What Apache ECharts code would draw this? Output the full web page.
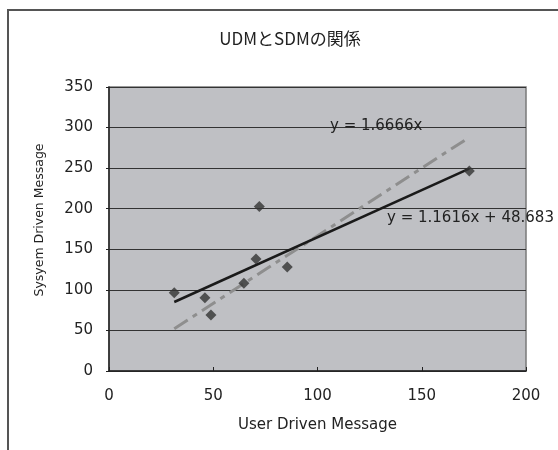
<!DOCTYPE html>
<html>
<head>
<meta charset="utf-8">
<script src="https://cdn.jsdelivr.net/npm/echarts@6/dist/echarts.min.js"></script>
<style>
  html, body { margin: 0; padding: 0; background: #fff; }
  #chart { width: 558px; height: 450px; }
</style>
</head>
<body>
<div id="chart"></div>
<script>
// Message counts per sample
const userDriven   = [31.3, 46.0, 48.9, 64.7, 70.5, 72.1, 85.5, 172.8];
const systemDriven = [96.5, 90.4, 69.0, 108.0, 138.0, 202.6, 128.2, 246.6];

// Trend line coefficients: [slope, intercept]
const linearFit = [1.1616, 48.683];
const originFit = [1.6666, 0];

const xTicks = [0, 50, 100, 150, 200];
const yTicks = [0, 50, 100, 150, 200, 250, 300, 350];

const titleText = 'UDMとSDMの関係';
const xName = 'User Driven Message';
const yName = 'Sysyem Driven Message';

const points = userDriven.map((x, i) => [x, systemDriven[i]]);
const xMin = Math.min(...userDriven);
const xMax = Math.max(...userDriven);
const fitLine = (c) => [[xMin, c[0] * xMin + c[1]], [xMax, c[0] * xMax + c[1]]];

const font = 'DejaVu Sans';

const chart = echarts.init(document.getElementById('chart'), null, { renderer: 'canvas' });
chart.setOption({
  animation: false,
  backgroundColor: '#ffffff',
  title: {
    text: titleText,
    left: 285, top: 25, textAlign: 'center',
    textStyle: { fontFamily: 'Noto Sans CJK JP', fontSize: 17, fontWeight: 'normal', color: '#222' }
  },
  grid: {
    left: 109, top: 87, right: 32, bottom: 79,
    show: true, backgroundColor: '#bfc0c4', borderColor: '#7a7a7a', borderWidth: 1.5
  },
  xAxis: {
    type: 'value', min: xTicks[0], max: xTicks[xTicks.length - 1], interval: 50,
    name: xName, nameLocation: 'middle', nameGap: 47,
    nameTextStyle: { fontFamily: font, fontSize: 15, color: '#222' },
    axisLine: { show: true, lineStyle: { color: '#222', width: 1.5 } },
    axisTick: { show: true, inside: true, length: 4, lineStyle: { color: '#222' } },
    axisLabel: { fontFamily: font, fontSize: 15, color: '#222', margin: 18 },
    splitLine: { show: false }
  },
  yAxis: {
    type: 'value', min: yTicks[0], max: yTicks[yTicks.length - 1], interval: 50,
    axisLine: { show: true, lineStyle: { color: '#222', width: 1.5 } },
    axisTick: { show: true, length: 3, lineStyle: { color: '#222' } },
    axisLabel: { fontFamily: font, fontSize: 15, color: '#222', margin: 16 },
    splitLine: { show: true, lineStyle: { color: '#333', width: 1 } }
  },
  series: [
    {
      name: 'origin fit', type: 'line', data: fitLine(originFit),
      symbol: 'none', silent: true, z: 2,
      lineStyle: { color: '#8e8e8e', width: 3, type: [16, 6, 5, 6] }
    },
    {
      name: 'linear fit', type: 'line', data: fitLine(linearFit),
      symbol: 'none', silent: true, z: 3,
      lineStyle: { color: '#1a1a1a', width: 2.5 }
    },
    {
      name: 'samples', type: 'scatter', data: points,
      symbol: 'diamond', symbolSize: 11, z: 4,
      itemStyle: { color: '#333333' }
    }
  ],
  graphic: [
    {
      type: 'rect', silent: true, z: -10,
      shape: { x: 8, y: 10, width: 600, height: 500 },
      style: { fill: 'none', stroke: '#555', lineWidth: 2 }
    },
    {
      type: 'text', x: 40, y: 220, rotation: Math.PI / 2, z: 10,
      style: {
        text: yName, font: '12.5px "' + font + '"', fill: '#222',
        align: 'center', verticalAlign: 'middle'
      }
    },
    {
      type: 'text', left: 330, top: 119, z: 10,
      style: { text: 'y = ' + originFit[0] + 'x', font: '15px "' + font + '"', fill: '#222' }
    },
    {
      type: 'text', left: 387, top: 211, z: 10,
      style: { text: 'y = ' + linearFit[0] + 'x + ' + linearFit[1], font: '15px "' + font + '"', fill: '#222' }
    }
  ]
});
</script>
</body>
</html>
